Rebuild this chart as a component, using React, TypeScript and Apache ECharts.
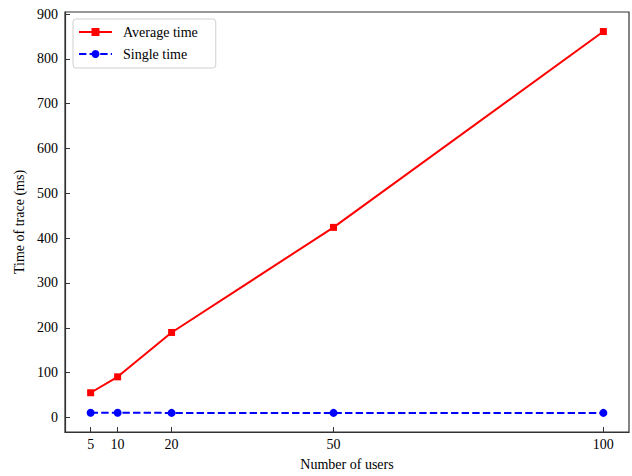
import React, { useEffect, useRef } from "react";
import * as echarts from "echarts";

const users = [5, 10, 20, 50, 100];
const averageTime = [55, 90.5, 189.5, 424, 861];
const singleTime = [10.5, 10.5, 10, 10, 10];
const xTicks = [5, 10, 20, 50, 100];
const yTicks = [0, 100, 200, 300, 400, 500, 600, 700, 800, 900];

const FONT = "Liberation Serif";
const AXIS = "#333333";

export default function App() {
  const ref = useRef<HTMLDivElement>(null);
  useEffect(() => {
    if (!ref.current) return;
    const chart = echarts.init(ref.current, undefined, { renderer: "svg" });
    const tickRich = { t: { fontFamily: FONT, fontSize: 14, color: "#000" } };
    chart.setOption({
      animation: false,
      backgroundColor: "#ffffff",
      textStyle: { fontFamily: FONT },
      grid: {
        left: 65,
        right: 3,
        top: 12,
        bottom: 44,
        show: true,
        borderColor: AXIS,
        borderWidth: 1.2,
        containLabel: false,
      },
      legend: {
        left: 73,
        top: 19,
        orient: "vertical",
        itemWidth: 33,
        itemHeight: 10,
        itemGap: 8,
        padding: [6, 18, 7, 5],
        borderColor: "#d0d0d0",
        borderWidth: 1,
        borderRadius: 3,
        backgroundColor: "#ffffff",
        textStyle: {
          fontFamily: FONT,
          fontSize: 14,
          color: "#000",
          padding: [0, 0, 0, 6],
        },
        data: ["Average time", "Single time"],
      },
      xAxis: {
        type: "value",
        min: 0.25,
        max: 104.75,
        name: "Number of users",
        nameLocation: "middle",
        nameGap: 25,
        nameTextStyle: { fontFamily: FONT, fontSize: 14, color: "#000" },
        axisLine: { show: true, onZero: false, lineStyle: { color: AXIS, width: 1.2 } },
        axisTick: {
          show: true,
          inside: true,
          length: 5,
          customValues: xTicks,
          lineStyle: { color: AXIS, width: 1 },
        },
        axisLabel: {
          customValues: xTicks,
          fontFamily: FONT,
          fontSize: 14,
          color: "#000",
          margin: 5,
          formatter: "{t|{value}}",
          rich: tickRich,
        },
        splitLine: { show: false },
      },
      yAxis: {
        type: "value",
        min: -32.6,
        max: 904.6,
        name: "Time of trace (ms)",
        nameLocation: "middle",
        nameGap: 38,
        nameTextStyle: { fontFamily: FONT, fontSize: 14, color: "#000" },
        axisLine: { show: true, onZero: false, lineStyle: { color: AXIS, width: 1.2 } },
        axisTick: {
          show: true,
          inside: true,
          length: 5,
          customValues: yTicks,
          lineStyle: { color: AXIS, width: 1 },
        },
        axisLabel: {
          customValues: yTicks,
          fontFamily: FONT,
          fontSize: 14,
          color: "#000",
          margin: 7,
          formatter: "{t|{value}}",
          rich: tickRich,
        },
        splitLine: { show: false },
      },
      series: [
        {
          name: "Average time",
          type: "line",
          data: users.map((u, i) => [u, averageTime[i]]),
          symbol: "rect",
          symbolSize: 7,
          showAllSymbol: true,
          color: "#ff0000",
          lineStyle: { color: "#ff0000", width: 2 },
          itemStyle: { color: "#ff0000" },
        },
        {
          name: "Single time",
          type: "line",
          data: users.map((u, i) => [u, singleTime[i]]),
          symbol: "circle",
          symbolSize: 8,
          showAllSymbol: true,
          color: "#0000ff",
          lineStyle: { color: "#0000ff", width: 2, type: [7.4, 3.2] },
          itemStyle: { color: "#0000ff" },
        },
      ],
    });
    return () => chart.dispose();
  }, []);
  return (
    <div
      ref={ref}
      style={{ position: "fixed", left: 0, top: 0, width: 632, height: 476 }}
    />
  );
}
